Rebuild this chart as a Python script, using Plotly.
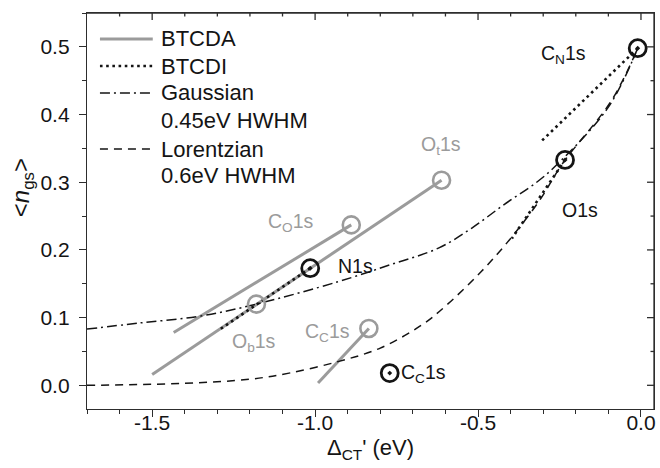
import plotly.graph_objects as go

# ---- data ----
# BTCDA (gray solid) line segments
btcda_seg_x = [[-0.612, -1.500], [-0.889, -1.434], [-0.835, -0.991]]
btcda_seg_y = [[0.303, 0.016], [0.237, 0.078], [0.084, 0.0035]]
# BTCDA circles
btcda_pt_x = [-0.612, -0.889, -1.180, -0.835]
btcda_pt_y = [0.303, 0.237, 0.120, 0.084]
btcda_lbl = ["O<sub>t</sub>1s", "C<sub>O</sub>1s", "O<sub>b</sub>1s", "C<sub>C</sub>1s"]
btcda_lbl_x = [-0.615, -1.074, -1.187, -0.962]
btcda_lbl_y = [0.355, 0.240, 0.063, 0.078]

# BTCDI (black dotted) line segments
btcdi_seg_x = [[-1.015, -1.294], [-0.010, -0.307], [-0.233, -0.396]]
btcdi_seg_y = [[0.173, 0.082], [0.498, 0.360], [0.333, 0.217]]
# BTCDI circles
btcdi_pt_x = [-1.015, -0.771, -0.233, -0.010]
btcdi_pt_y = [0.173, 0.018, 0.333, 0.498]
btcdi_lbl = ["N1s", "C<sub>C</sub>1s", "O1s", "C<sub>N</sub>1s"]
btcdi_lbl_x = [-0.875, -0.666, -0.187, -0.238]
btcdi_lbl_y = [0.176, 0.018, 0.259, 0.488]

# Gaussian 0.45 eV HWHM curve
gauss_x = [-1.70, -1.54, -1.355, -1.18, -0.93, -0.77, -0.62, -0.52, -0.42, -0.32, -0.26, -0.10, -0.01]
gauss_y = [0.083, 0.092, 0.102, 0.120, 0.153, 0.178, 0.203, 0.232, 0.267, 0.300, 0.325, 0.411, 0.498]

# Lorentzian 0.6 eV HWHM curve
lor_x = [-1.70, -1.40, -1.20, -1.08, -0.93, -0.80, -0.67, -0.60, -0.49, -0.40, -0.31, -0.24, -0.09, -0.01]
lor_y = [0.000, 0.003, 0.009, 0.018, 0.035, 0.055, 0.090, 0.117, 0.168, 0.217, 0.274, 0.328, 0.421, 0.498]

x_tick_vals = [-1.5, -1.0, -0.5, 0.0]
x_tick_text = ["-1.5", "-1.0", "-0.5", "0.0"]
x_minor_vals = [-1.6, -1.4, -1.3, -1.2, -1.1, -0.9, -0.8, -0.7, -0.6, -0.4, -0.3, -0.2, -0.1]
y_tick_vals = [0.0, 0.1, 0.2, 0.3, 0.4, 0.5]
y_tick_text = ["0.0", "0.1", "0.2", "0.3", "0.4", "0.5"]
y_minor_vals = [0.05, 0.15, 0.25, 0.35, 0.45]

legend_text = ["BTCDA", "BTCDI", "Gaussian", "0.45eV HWHM", "Lorentzian", "0.6eV HWHM"]

x_range = [-1.70, 0.04]
y_range = [-0.035, 0.55]

GRAY = "rgb(155,155,155)"
BLACK = "rgb(20,20,20)"
AX = "rgb(45,45,45)"
FONT = "Liberation Sans, Arial, sans-serif"

BTCDA_LINE = dict(color=GRAY, width=3)
BTCDI_LINE = dict(color=BLACK, width=2.6, dash="2.6px,3.6px")
GAUSS_LINE = dict(color=BLACK, width=1.5, dash="10px,4px,2px,4px")
LOR_LINE = dict(color=BLACK, width=1.5, dash="8px,6px")

# plot-area size in px (x 0..569, y 0..396 from top)
PW, PH = 569.0, 396.0
X_PER_PX = (x_range[1] - x_range[0]) / PW
Y_PER_PX = (y_range[1] - y_range[0]) / PH

fig = go.Figure()

for sx, sy in zip(btcda_seg_x, btcda_seg_y):
    fig.add_trace(go.Scatter(x=sx, y=sy, mode="lines", line=BTCDA_LINE, showlegend=False))
for sx, sy in zip(btcdi_seg_x, btcdi_seg_y):
    fig.add_trace(go.Scatter(x=sx, y=sy, mode="lines", line=BTCDI_LINE, showlegend=False))

fig.add_trace(go.Scatter(x=gauss_x, y=gauss_y, mode="lines", line_shape="spline", line=GAUSS_LINE,
                         showlegend=False))
fig.add_trace(go.Scatter(x=lor_x, y=lor_y, mode="lines", line_shape="spline", line=LOR_LINE,
                         showlegend=False))

fig.add_trace(go.Scatter(x=btcda_pt_x, y=btcda_pt_y, mode="markers", showlegend=False,
                         marker=dict(symbol="circle-open", size=17, color=GRAY, line=dict(width=2.6, color=GRAY))))
fig.add_trace(go.Scatter(x=btcdi_pt_x, y=btcdi_pt_y, mode="markers", showlegend=False,
                         marker=dict(symbol="circle-open-dot", size=17, color=BLACK, line=dict(width=2.8, color=BLACK))))

# ---- top / right frame edges with inward ticks (built from the axis ranges and tick lists) ----
fx, fy = [x_range[0], x_range[1], x_range[1]], [y_range[1], y_range[1], y_range[0]]
for vals, ln in ((x_tick_vals, 7), (x_minor_vals, 3.5)):
    for v in vals:
        fx += [None, v, v]
        fy += [None, y_range[1], y_range[1] - ln * Y_PER_PX]
for vals, ln in ((y_tick_vals, 7), (y_minor_vals, 3.5)):
    for v in vals:
        fx += [None, x_range[1], x_range[1] - ln * X_PER_PX]
        fy += [None, v, v]
fig.add_trace(go.Scatter(x=fx, y=fy, mode="lines", line=dict(color=AX, width=1.3), cliponaxis=False,
                         showlegend=False, hoverinfo="skip", connectgaps=False))

for t, x, y in zip(btcda_lbl, btcda_lbl_x, btcda_lbl_y):
    fig.add_annotation(x=x, y=y, text=t, showarrow=False, font=dict(size=19.5, color=GRAY, family=FONT),
                       xanchor="center", yanchor="middle")
for t, x, y in zip(btcdi_lbl, btcdi_lbl_x, btcdi_lbl_y):
    fig.add_annotation(x=x, y=y, text=t, showarrow=False, font=dict(size=19.5, color=BLACK, family=FONT),
                       xanchor="center", yanchor="middle")

def px(xp):
    return xp / PW
def py(yp):
    return 1 - yp / PH

# ---- hand-drawn legend ----
row_y = [26, 53, 80, 108, 136, 163]
legend_lines = [BTCDA_LINE, BTCDI_LINE, GAUSS_LINE, None, LOR_LINE, None]
for t, ry, ln in zip(legend_text, row_y, legend_lines):
    fig.add_annotation(xref="paper", yref="paper", x=px(72), y=py(ry), text=t, showarrow=False,
                       xanchor="left", yanchor="middle", font=dict(size=22, color=BLACK, family=FONT))
    if ln is not None:
        fig.add_shape(type="line", xref="paper", yref="paper", x0=px(13), x1=px(66), y0=py(ry), y1=py(ry),
                      line=ln)

# axis titles
fig.add_annotation(xref="paper", yref="paper", x=0.5, y=py(436), text="Δ<sub>CT</sub>' (eV)",
                   showarrow=False, font=dict(size=22, color=BLACK, family=FONT), yanchor="middle")
fig.add_annotation(xref="paper", yref="paper", x=px(-65), y=py(175), text="&lt;<i>n</i><sub>gs</sub>&gt;",
                   showarrow=False, textangle=-90, font=dict(size=24, color=BLACK, family=FONT),
                   xanchor="center", yanchor="middle")

axis_common = dict(showgrid=False, zeroline=False, showline=True, mirror=True, linecolor=AX, linewidth=1.3,
                   tickcolor=AX, tickwidth=1.3,
                   tickfont=dict(size=21, color=BLACK, family=FONT))

fig.update_layout(
    width=660, height=468,
    margin=dict(l=87, r=4, t=13, b=59),
    paper_bgcolor="white", plot_bgcolor="white",
    showlegend=False,
    xaxis=dict(range=x_range, tickmode="array", tickvals=x_tick_vals, ticktext=x_tick_text,
               ticks="outside", ticklen=7, ticklabelstandoff=-12,
               minor=dict(dtick=0.1, tick0=0, ticks="outside", ticklen=3.5, tickcolor=AX, tickwidth=1.3),
               **axis_common),
    yaxis=dict(range=y_range, tickmode="array", tickvals=y_tick_vals, ticktext=y_tick_text,
               ticks="outside", ticklen=7, ticklabelstandoff=5,
               minor=dict(dtick=0.05, tick0=0, ticks="outside", ticklen=3.5, tickcolor=AX, tickwidth=1.3),
               **axis_common),
)

fig.write_html("out.html", config={"displayModeBar": False},
               post_script="document.body.style.margin='0px';document.body.style.overflow='hidden';")
